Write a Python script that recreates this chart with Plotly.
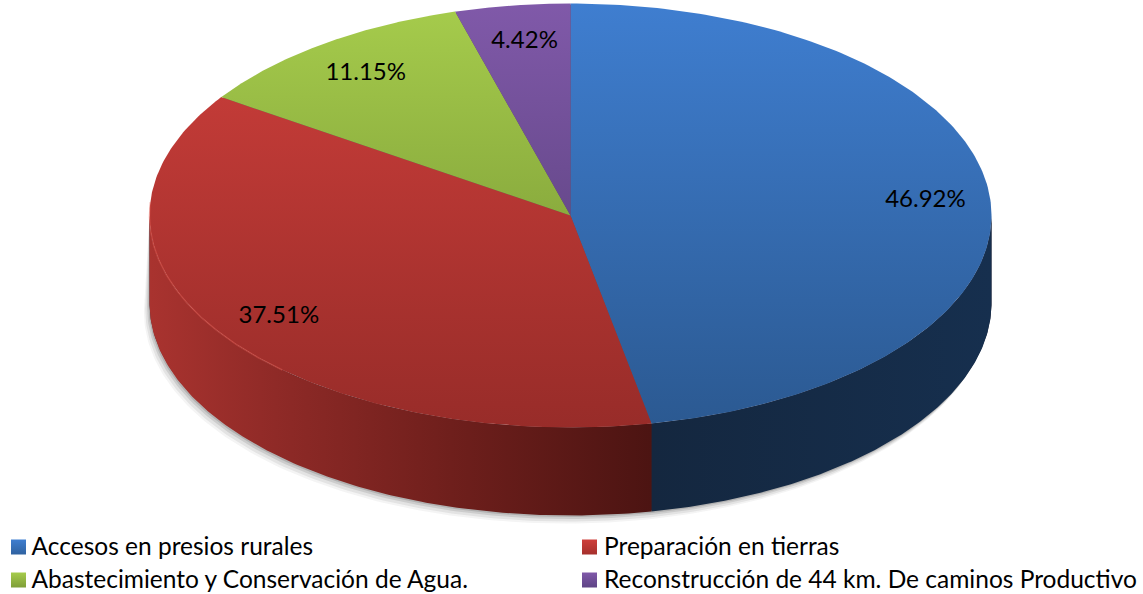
import numpy as np
import plotly.graph_objects as go

categories = ["Accesos en presios rurales", "Preparación en tierras",
              "Abastecimiento y Conservación de Agua.",
              "Reconstrucción de 44 km. De caminos Productivo"]
values = [46.92, 37.51, 11.15, 4.42]
labels = ["46.92%", "37.51%", "11.15%", "4.42%"]

CX, CY, RX, RY, DEPTH = 570.5, 215.5, 421, 212, 88
top_colors = ["#3F7ED0", "#CE3F3B", "#A6CC4C", "#8059A9"]
bottom_colors = ["#2B5991", "#982C29", "#6F8C30", "#4F3A70"]
legend_edge = ["#2F62A0", "#A5302C", "#7F9E38", "#5E4485"]
FONT = "Lato"

def pt(frac, dy=0.0):
    a = 2 * np.pi * np.asarray(frac) / 100
    return CX + RX * np.sin(a), CY - RY * np.cos(a) + dy

fig = go.Figure()

# soft shadow under the disc
for off, alpha in [(8, .05), (6, .08), (3.5, .12), (1.5, .16)]:
    f = np.linspace(25, 75, 200)
    x, y = pt(f, DEPTH + off)
    x0, y0 = pt(f[::-1], 0)
    fig.add_trace(go.Scatter(x=np.r_[x - off * .7, x0], y=np.r_[y, y0], mode="lines", fill="toself",
                             line=dict(width=0), fillcolor=f"rgba(40,40,40,{alpha})",
                             hoverinfo="skip", showlegend=False))

edges = np.r_[0, np.cumsum(values)]
edges[-1] = 100

# side walls, front half only; default gradient extent is the wall's own box
walls = [
    (25, edges[1], [[0, "#14273F"], [1, "#162F4E"]]),
    (edges[1], 75, [[0, "#A9332F"], [.25, "#8F2A27"], [.6, "#6F1F1C"], [1, "#4C1412"]]),
]
# underlay hides anti-aliased seams between the wall pieces
f = np.linspace(25.2, 74.8, 200)
xt, yt = pt(f)
xb, yb = pt(f[::-1], DEPTH - 1)
fig.add_trace(go.Scatter(x=np.r_[xt, xb], y=np.r_[yt, yb], mode="lines", fill="toself", line=dict(width=0),
                         fillcolor="#30202A", hoverinfo="skip", showlegend=False))
for a, b, scale in walls:
    f = np.linspace(a, b, 160)
    xt, yt = pt(f)
    xb, yb = pt(f[::-1], DEPTH)
    fig.add_trace(go.Scatter(
        x=np.r_[xt, xb], y=np.r_[yt, yb], mode="lines", fill="toself", line=dict(width=0),
        fillgradient=dict(type="horizontal", colorscale=scale),
        hoverinfo="skip", showlegend=False))

# underlay for the top face seams
f = np.linspace(0, 100, 300)
x, y = pt(f)
fig.add_trace(go.Scatter(x=CX + (x - CX) * .995, y=CY + (y - CY) * .995, mode="lines", fill="toself",
                         line=dict(width=0), fillcolor="#5A4A5A", hoverinfo="skip", showlegend=False))

# top faces
for i in range(4):
    f = np.linspace(edges[i], edges[i + 1], 200)
    x, y = pt(f)
    fig.add_trace(go.Scatter(
        x=np.r_[CX, x, CX], y=np.r_[CY, y, CY], mode="lines", fill="toself", line=dict(width=0),
        fillgradient=dict(type="vertical",
                          colorscale=[[0, top_colors[i]], [1, bottom_colors[i]]],
                          start=float(CY - RY), stop=float(CY + RY)),
        hoverinfo="skip", showlegend=False))

# lit rim on the red slice
f = np.linspace(62, 76, 120)
x, y = pt(f)
fig.add_trace(go.Scatter(x=x, y=y, mode="lines", line=dict(width=1.5, color="rgba(235,95,85,0.4)"),
                         hoverinfo="skip", showlegend=False))

# data labels placed from the slice mid-angles
mids = (edges[:-1] + edges[1:]) / 2
lx = CX + 3 + .84 * RX * np.sin(2 * np.pi * mids / 100)
ly = CY + 3 - .84 * RY * np.cos(2 * np.pi * mids / 100)
fig.add_trace(go.Scatter(x=lx, y=ly, mode="text", text=labels,
                         textfont=dict(family=FONT, size=24, color="#000000"),
                         hoverinfo="skip", showlegend=False))

# legend rows drawn as marker + text in two columns
col_x = [18.5, 589.5]
row_y = [547, 580]
for i, name in enumerate(categories):
    mx, my = col_x[i % 2], row_y[i // 2]
    fig.add_trace(go.Scatter(x=[mx], y=[my], mode="markers", hoverinfo="skip", showlegend=False,
                             marker=dict(symbol="square", size=15, color=top_colors[i], line=dict(width=0),
                                         gradient=dict(type="vertical", color=legend_edge[i]))))
    fig.add_trace(go.Scatter(x=[mx + 13 + (i % 2) * 1.5], y=[my + 2], mode="text", text=[name],
                             textposition="middle right",
                             textfont=dict(family=FONT, size=24.5, color="#000000"),
                             hoverinfo="skip", showlegend=False))

fig.update_layout(
    width=1143, height=594, margin=dict(l=0, r=0, t=0, b=0),
    paper_bgcolor="white", plot_bgcolor="white", showlegend=False,
    xaxis=dict(range=[0, 1143], visible=False, fixedrange=True),
    yaxis=dict(range=[594, 0], visible=False, fixedrange=True),
)
fig.write_html("out.html", config=dict(displayModeBar=False),
               post_script="document.body.style.margin='0';document.documentElement.style.overflow='hidden';")
